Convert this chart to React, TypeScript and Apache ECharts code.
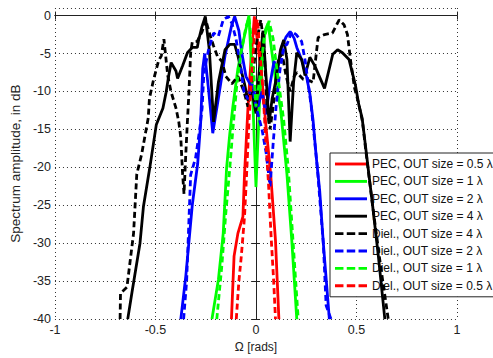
import React, { useEffect, useRef } from "react";
import * as echarts from "echarts";

const xTicks = [-1, -0.5, 0, 0.5, 1];
const yTicks = [0, -5, -10, -15, -20, -25, -30, -35, -40];

const seriesNames = [
  "PEC, OUT size = 0.5 λ",
  "PEC, OUT size = 1 λ",
  "PEC, OUT size = 2 λ",
  "PEC, OUT size = 4 λ",
  "Diel., OUT size = 4 λ",
  "Diel., OUT size = 2 λ",
  "Diel., OUT size = 1 λ",
  "Diel., OUT size = 0.5 λ",
];
const seriesColors = ["#ff0000", "#00ff00", "#0000ff", "#000000", "#000000", "#0000ff", "#00ff00", "#ff0000"];
const seriesDashed = [false, false, false, false, true, true, true, true];

const pec05: number[][] = [
  [-0.122, -40], [-0.109, -31.7], [-0.09, -28.7], [-0.065, -26.5], [-0.057, -20.9], [-0.04, -12.2],
  [-0.025, -6], [-0.008, -0.1], [0.01, -4], [0.03, -8.5], [0.049, -14.4], [0.073, -20.9],
  [0.097, -29.6], [0.114, -40],
];
const pec1: number[][] = [
  [-0.219, -40], [-0.187, -34.8], [-0.163, -28.7], [-0.146, -20], [-0.13, -15.5], [-0.115, -12],
  [-0.09, -7], [-0.06, -3], [-0.035, 0], [-0.02, -8], [0, -22.6], [0.02, -10], [0.045, -2],
  [0.06, -1], [0.08, -5], [0.1, -9], [0.122, -12.2], [0.154, -20.9], [0.178, -29.6], [0.203, -40],
];
const pec2: number[][] = [
  [-0.374, -40], [-0.349, -34.3], [-0.317, -25], [-0.29, -19.5], [-0.275, -14], [-0.265, -7],
  [-0.255, -5], [-0.235, -10], [-0.215, -15.5], [-0.187, -10.9], [-0.154, -5.3], [-0.122, -1.4],
  [-0.106, -0.1], [-0.085, -2], [-0.07, -5], [-0.05, -8], [-0.03, -9], [-0.01, -10], [0.01, -12],
  [0.03, -10], [0.05, -13], [0.07, -9], [0.09, -6], [0.105, -7.3], [0.13, -4], [0.15, -2.8],
  [0.17, -2.1], [0.19, -3], [0.203, -4.2], [0.23, -6], [0.252, -8.1], [0.268, -10.3],
  [0.284, -13.8], [0.3, -18.7], [0.317, -23.1], [0.335, -30], [0.35, -35], [0.365, -40],
];
const pec4: number[][] = [
  [-0.638, -40], [-0.617, -36.5], [-0.577, -30], [-0.56, -25.2], [-0.528, -20], [-0.496, -14.4],
  [-0.463, -12.2], [-0.447, -10.1], [-0.434, -7.9], [-0.422, -6.2], [-0.398, -7.3], [-0.39, -8.3],
  [-0.365, -6.6], [-0.341, -4.9], [-0.317, -4.2], [-0.292, -4.2], [-0.285, -3.2], [-0.268, -1.4],
  [-0.252, -0.1], [-0.232, -4.5], [-0.211, -14], [-0.187, -8.8], [-0.154, -4.5], [-0.13, -3.8],
  [-0.106, -3.8], [-0.09, -5.3], [-0.073, -7.3], [-0.057, -9], [-0.04, -11.2], [-0.02, -10],
  [0, -12.9], [0.02, -6], [0.035, -2], [0.05, -8], [0.065, -14.2], [0.08, -11], [0.097, -8.8],
  [0.122, -4.5], [0.138, -3.2], [0.154, -5.8], [0.17, -16.6], [0.187, -8.8], [0.203, -4.9],
  [0.227, -5.8], [0.244, -7.9], [0.268, -5.5], [0.292, -6.6], [0.341, -9.6], [0.382, -5.1],
  [0.406, -4.5], [0.43, -4.9], [0.463, -5.8], [0.495, -9.2], [0.512, -11.8], [0.528, -13.5],
  [0.544, -17], [0.58, -25], [0.61, -32], [0.641, -40],
];
const diel4: number[][] = [
  [-0.676, -40], [-0.674, -36.6], [-0.642, -35.8], [-0.609, -28.7], [-0.593, -20.9], [-0.569, -18.3],
  [-0.536, -13.5], [-0.53, -10.9], [-0.51, -8.5], [-0.485, -6], [-0.471, -5.3], [-0.458, -3.1],
  [-0.439, -7.9], [-0.423, -10], [-0.398, -12.2], [-0.384, -14], [-0.374, -16.1], [-0.365, -20.9],
  [-0.358, -23.5], [-0.35, -18.7], [-0.342, -14.4], [-0.335, -10.9], [-0.325, -4.9], [-0.317, -3.5],
  [-0.292, -3.4], [-0.268, -2.1], [-0.25, -0.56], [-0.232, -2.3], [-0.211, -4], [-0.19, -5.5],
  [-0.17, -6], [-0.15, -8], [-0.12, -9], [-0.09, -8], [-0.06, -10], [-0.04, -12], [-0.02, -9],
  [0, -4], [0.024, -0.56], [0.04, -4], [0.055, -12], [0.07, -15], [0.09, -11], [0.11, -6],
  [0.13, -5], [0.15, -8], [0.17, -10], [0.19, -8], [0.203, -7.5], [0.235, -8.4], [0.268, -8.6],
  [0.284, -8.8], [0.3, -5], [0.309, -2.9], [0.341, -2.5], [0.38, -2.3], [0.414, -0.56],
  [0.438, -1.2], [0.455, -2.5], [0.471, -6], [0.49, -9.5], [0.51, -11.5], [0.53, -14],
  [0.545, -17.5], [0.58, -25], [0.62, -33], [0.658, -40],
];
const diel2: number[][] = [
  [-0.36, -40], [-0.345, -35], [-0.335, -28], [-0.325, -21], [-0.3, -18.7], [-0.28, -15],
  [-0.268, -12.2], [-0.26, -8], [-0.252, -6.6], [-0.236, -4.5], [-0.211, -2.3], [-0.187, -2.7],
  [-0.163, -0.56], [-0.138, -0.1], [-0.12, -1], [-0.1, -3], [-0.08, -6], [-0.06, -10], [-0.04, -11],
  [-0.02, -9], [0, -12], [0.03, -15], [0.05, -18], [0.07, -22.5], [0.085, -17], [0.1, -12],
  [0.12, -7], [0.14, -4], [0.154, -3.8], [0.178, -2.1], [0.2, -2.5], [0.227, -3.4], [0.245, -6],
  [0.26, -9], [0.275, -12], [0.29, -16], [0.305, -20], [0.32, -25], [0.335, -30], [0.349, -38.2],
  [0.373, -40],
];
const diel1: number[][] = [
  [-0.195, -40], [-0.17, -33], [-0.15, -26], [-0.13, -20], [-0.115, -15], [-0.095, -9],
  [-0.075, -5], [-0.05, -1.5], [-0.035, -0.3], [-0.02, -4], [0, -12], [0.02, -8], [0.04, -3],
  [0.065, -0.7], [0.085, -3], [0.105, -7.3], [0.138, -13.8], [0.16, -20], [0.18, -28], [0.2, -36],
  [0.21, -40],
];
const diel05: number[][] = [
  [-0.098, -40], [-0.085, -35], [-0.073, -31.7], [-0.057, -26.5], [-0.045, -20], [-0.035, -14],
  [-0.02, -7], [-0.005, -1.5], [0.008, -0.5], [0.02, -5], [0.035, -10], [0.05, -17], [0.062, -22],
  [0.075, -29], [0.088, -35], [0.097, -40],
];

const seriesData = [pec05, pec1, pec2, pec4, diel4, diel2, diel1, diel05];

const FONT = "Liberation Sans, Arial, sans-serif";
const SOLID_ICON = "path://M0,0h31v2.8h-31z";
const DASH_ICON = "path://M0,0h8.2v2.8h-8.2zM11.4,0h8.2v2.8h-8.2zM22.8,0h8.2v2.8h-8.2z";

export default function App() {
  const ref = useRef<HTMLDivElement>(null);
  useEffect(() => {
    if (!ref.current) return;
    const chart = echarts.init(ref.current, undefined, { renderer: "svg" });
    const gridLine = { show: true, lineStyle: { color: "#333", type: [1, 3] as any, width: 1 } };
    const axisLineStyle = { show: true, lineStyle: { color: "#222", width: 1 } };
    const tick = { show: true, inside: true, length: 4, lineStyle: { color: "#222" } };
    chart.setOption({
      animation: false,
      backgroundColor: "#fff",
      textStyle: { fontFamily: FONT },
      grid: { left: 46.5, right: 36, top: 8, bottom: 34, containLabel: false },
      xAxis: [
        {
          type: "value",
          min: xTicks[0],
          max: xTicks[xTicks.length - 1],
          interval: 0.5,
          name: "Ω [rads]",
          nameLocation: "middle",
          nameGap: 18,
          nameTextStyle: { fontSize: 12, color: "#222", fontFamily: FONT },
          axisLine: axisLineStyle,
          axisTick: tick,
          axisLabel: { fontSize: 12.5, color: "#222", margin: 4, fontFamily: FONT },
          splitLine: gridLine,
        },
        {
          type: "value",
          position: "top",
          min: xTicks[0],
          max: xTicks[xTicks.length - 1],
          interval: 0.5,
          axisLine: axisLineStyle,
          axisTick: tick,
          axisLabel: { show: false },
          splitLine: { show: false },
        },
      ],
      yAxis: [
        {
          type: "value",
          min: yTicks[yTicks.length - 1],
          max: 1,
          interval: 5,
          name: "Spectrum amplitude, in dB",
          nameLocation: "middle",
          nameGap: 29,
          nameTextStyle: { fontSize: 13.5, color: "#222", fontFamily: FONT },
          axisLine: axisLineStyle,
          axisTick: tick,
          axisLabel: { fontSize: 12.5, color: "#222", margin: 4, showMaxLabel: false, fontFamily: FONT },
          splitLine: gridLine,
        },
        {
          type: "value",
          position: "right",
          min: yTicks[yTicks.length - 1],
          max: 1,
          interval: 5,
          axisLine: axisLineStyle,
          axisTick: tick,
          axisLabel: { show: false },
          splitLine: { show: false },
        },
      ],
      legend: {
        orient: "vertical",
        left: 330,
        top: 153,
        itemWidth: 32,
        itemHeight: 12,
        itemGap: 5.4,
        padding: [5, 4, 5, 5],
        backgroundColor: "#fff",
        borderColor: "#222",
        borderWidth: 1,
        textStyle: { fontSize: 12, color: "#111", fontFamily: FONT },
        data: seriesNames.map((n, i) => ({ name: n, icon: seriesDashed[i] ? DASH_ICON : SOLID_ICON })),
      },
      series: seriesData.map((d, i) => ({
        name: seriesNames[i],
        type: "line",
        data: d,
        symbol: "none",
        xAxisIndex: 0,
        yAxisIndex: 0,
        lineStyle: {
          color: seriesColors[i],
          width: 2.8,
          type: seriesDashed[i] ? [6, 3.5] : "solid",
        },
        itemStyle: { color: seriesColors[i] },
        z: 2 + i,
      })),
    });
    return () => chart.dispose();
  }, []);
  return <div ref={ref} style={{ width: 493, height: 358, position: "absolute", left: 0, top: 0 }} />;
}
